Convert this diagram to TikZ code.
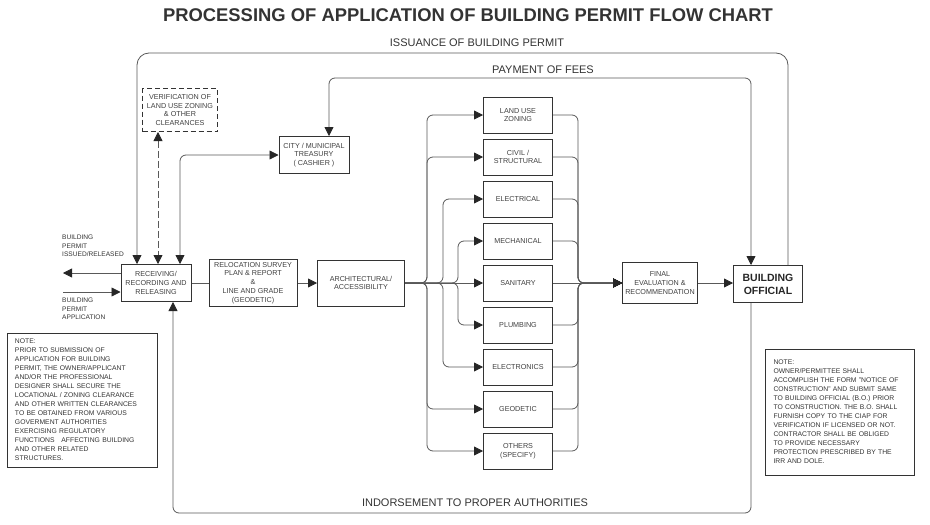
\documentclass[tikz,border=0pt]{standalone}
\usepackage{fontspec}
\setmainfont{Liberation Sans}
\usetikzlibrary{arrows.meta}

\tikzset{
  box/.style={draw=black!80, line width=1pt, align=center, inner sep=1pt,
    text=black!75, font=\fontsize{7.2}{8.8}\selectfont},
  dbox/.style={box, dash pattern=on 5pt off 3pt},
  note/.style={draw=black!80, line width=1pt, align=left, inner xsep=9pt,
    text=black!80, font=\fontsize{6.8}{9}\selectfont},
  lbl/.style={inner sep=0pt, text=black!80, font=\fontsize{6.6}{8.5}\selectfont},
  flowlbl/.style={inner sep=0pt, text=black!80, font=\fontsize{11}{13}\selectfont},
  line/.style={draw=black!65, line width=0.8pt, rounded corners=6pt},
  tip/.style={Triangle[length=9pt,width=9pt,color=black!85]},
  flow/.style={line, -{Triangle[length=9pt,width=9pt,color=black!85]}},
  both/.style={line, {Triangle[length=9pt,width=9pt,color=black!85]}-{Triangle[length=9pt,width=9pt,color=black!85]}}
}

\begin{document}
\begin{tikzpicture}[x=1pt, y=-1pt]
  \useasboundingbox (0,0) rectangle (930,525);

  % title and path labels
  \node[inner sep=0pt, text=black!80, font=\fontsize{18.4}{20}\selectfont\bfseries] (title) at (468,15)
    {PROCESSING OF APPLICATION OF BUILDING PERMIT FLOW CHART};
  \node[flowlbl] (isslbl) at (477,43) {ISSUANCE OF BUILDING PERMIT};
  \node[flowlbl] (paylbl) at (543,70) {PAYMENT OF FEES};
  \node[flowlbl] (indlbl) at (475,503) {INDORSEMENT TO PROPER AUTHORITIES};

  % main row
  \node[box, minimum width=70pt, minimum height=37pt] (rec) at (156,283)
    {RECEIVING/\\RECORDING AND\\RELEASING};
  \node[box, minimum width=88pt, minimum height=47pt] (reloc) at (253,283)
    {RELOCATION SURVEY\\PLAN \& REPORT\\\&\\LINE AND GRADE\\(GEODETIC)};
  \node[box, minimum width=87pt, minimum height=46pt] (arch) at (361,283)
    {ARCHITECTURAL/\\ACCESSIBILITY};
  \node[box, minimum width=75pt, minimum height=41pt] (final) at (660,283)
    {FINAL\\EVALUATION \&\\RECOMMENDATION};
  \node[box, minimum width=69pt, minimum height=37pt, text=black!85,
    font=\fontsize{10.5}{13}\selectfont\bfseries] (bo) at (768,284) {BUILDING\\OFFICIAL};

  % upper boxes
  \node[dbox, minimum width=75pt, minimum height=43pt] (verif) at (180,110)
    {VERIFICATION OF\\LAND USE ZONING\\\& OTHER\\CLEARANCES};
  \node[box, minimum width=70pt, minimum height=37pt] (treas) at (314,155)
    {CITY / MUNICIPAL\\TREASURY\\( CASHIER )};

  % disciplines
  \foreach \i/\t in {1/{LAND USE\\ZONING}, 2/{CIVIL /\\STRUCTURAL}, 3/ELECTRICAL,
      4/MECHANICAL, 5/SANITARY, 6/PLUMBING, 7/ELECTRONICS, 8/GEODETIC, 9/{OTHERS\\(SPECIFY)}}
    \node[box, minimum width=69pt, minimum height=36pt] (d\i) at (518,{73+42*\i}) {\t};

  % notes
  \node[note, minimum width=150pt, minimum height=134pt, text width=134pt, inner xsep=8pt] (noteL) at (82,400)
    {NOTE:\\PRIOR TO SUBMISSION OF\\APPLICATION FOR BUILDING\\PERMIT, THE OWNER/APPLICANT\\
     AND/OR THE PROFESSIONAL\\DESIGNER SHALL SECURE THE\\LOCATIONAL / ZONING CLEARANCE\\
     AND OTHER WRITTEN CLEARANCES\\TO BE OBTAINED FROM VARIOUS\\GOVERMENT AUTHORITIES\\
     EXERCISING REGULATORY\\FUNCTIONS \ \ AFFECTING BUILDING\\AND OTHER RELATED\\STRUCTURES.};
  \node[note, minimum width=149pt, minimum height=126pt, text width=133pt, inner xsep=8pt] (noteR) at (840,412)
    {NOTE:\\OWNER/PERMITTEE SHALL\\ACCOMPLISH THE FORM "NOTICE OF\\CONSTRUCTION" AND SUBMIT SAME\\
     TO BUILDING OFFICIAL (B.O.) PRIOR\\TO CONSTRUCTION. THE B.O. SHALL\\FURNISH COPY TO THE CIAP FOR\\
     VERIFICATION IF LICENSED OR NOT.\\CONTRACTOR SHALL BE OBLIGED\\TO PROVIDE NECESSARY\\
     PROTECTION PRESCRIBED BY THE\\IRR AND DOLE.};

  % in / out labels
  \node[lbl, anchor=west, align=left] (outlbl) at (62,246) {BUILDING\\PERMIT\\ISSUED/RELEASED};
  \node[lbl, anchor=west, align=left] (inlbl) at (62,309) {BUILDING\\PERMIT\\APPLICATION};
  \coordinate (outL) at (63,273);
  \coordinate (inL) at (63,292);
  \draw[flow] (rec.west |- outL) -- (outL);
  \draw[flow] (inL) -- (rec.west |- inL);

  % bend points of the long loops
  \coordinate (issR) at (788,53);
  \coordinate (issL) at (137,53);
  \coordinate (payR) at (751,78);
  \coordinate (payL) at (329,78);
  \coordinate (casL) at (180,155);
  \coordinate (dsh) at (158,0);
  \coordinate (indR) at (751,513);
  \coordinate (indL) at (173,513);

  \draw[flow, rounded corners=12pt] (bo.north -| issR) -- (issR) -- (issL) -- (rec.north -| issL);
  \draw[both] (treas.north -| payL) -- (payL) -- (payR) -- (bo.north -| payR);
  \draw[both] (treas.west) -- (casL) -- (rec.north -| casL);
  \draw[both, dash pattern=on 7pt off 3pt] (verif.south -| dsh) -- (rec.north -| dsh);
  \draw[flow] (bo.south -| indR) -- (indR) -- (indL) -- (rec.south -| indL);

  % main flow
  \draw[line] (rec.east) -- (reloc.west);
  \draw[flow] (reloc.east) -- (arch.west);
  \draw[flow] (arch.east) -- (d5.west);
  \draw[flow] (d5.east) -- (final.west);
  \foreach \i/\bx in {1/427, 2/427, 3/443, 4/458, 6/458, 7/443, 8/427, 9/427} {
    \draw[flow] (arch.east) -- (\bx,283) |- (d\i.west);
    \draw[flow] (d\i.east) -| (578,283) -- (final.west);
  }
  \draw[flow] (final.east) -- (bo.west |- final.east);
\end{tikzpicture}
\end{document}
